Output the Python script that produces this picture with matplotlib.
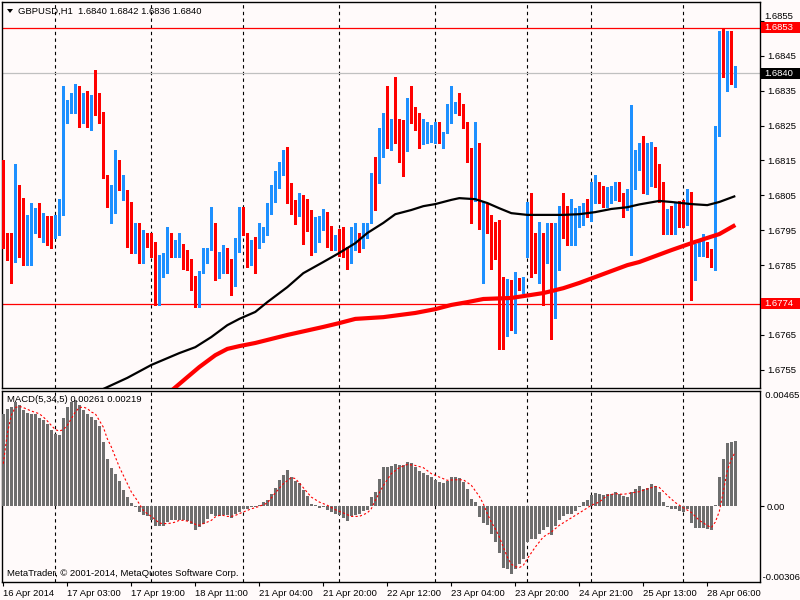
import numpy as np
import matplotlib
matplotlib.use('Agg')
import matplotlib.pyplot as plt
from matplotlib.patches import Rectangle, Polygon
from matplotlib.transforms import blended_transform_factory

# ---------------- data ----------------
title_text = "GBPUSD,H1  1.6840 1.6842 1.6836 1.6840"
macd_text = "MACD(5,34,5) 0.00261 0.00219"
copyright_text = "MetaTrader, \u00a9 2001-2014, MetaQuotes Software Corp."

opens = [1.68070,1.67931,1.67879,1.67879,1.68010,1.67941,1.67898,1.67917,1.67989,1.67999,
         1.67977,1.67980,1.67970,1.67969,1.67989,1.67999,1.68297,1.68309,1.68318,1.68320,
         1.68266,1.68280,1.68280,1.68320,1.68299,1.68280,1.68108,1.68037,1.68076,1.68101,
         1.68078,1.68061,1.67970,1.67927,1.67960,1.67888,1.67931,1.67939,1.67898,1.67817,
         1.67851,1.67836,1.67917,1.67876,1.67876,1.67910,1.67869,1.67869,1.67812,1.67769,
         1.67851,1.67876,1.67898,1.67950,1.67817,1.67855,1.67888,1.67860,1.67810,1.67888,
         1.67999,1.67931,1.67865,1.67917,1.67936,1.67941,1.67936,1.67997,1.68058,1.68105,
         1.68118,1.68148,1.68051,1.68020,1.67997,1.68032,1.68018,1.67960,1.67909,1.67949,
         1.67958,1.67970,1.67917,1.67898,1.67912,1.67895,1.67893,1.67857,1.67912,1.67939,
         1.67927,1.67931,1.67970,1.68101,1.68086,1.68161,1.68261,1.68199,1.68228,1.68239,
         1.68249,1.68206,1.68309,1.68290,1.68261,1.68207,1.68226,1.68207,1.68228,1.68249,
         1.68188,1.68239,1.68268,1.68287,1.68299,1.68299,1.68261,1.68180,1.68105,1.68161,
         1.67960,1.68010,1.67980,1.67970,1.67869,1.67817,1.67656,1.67779,1.67676,1.67798,
         1.67797,1.67898,1.68010,1.67903,1.67836,1.67930,1.67888,1.67910,1.67736,1.67898,
         1.67980,1.67939,1.67916,1.67907,1.67970,1.67994,1.68010,1.67989,1.68057,1.68067,
         1.68039,1.68029,1.68050,1.68039,1.68089,1.68029,1.68010,1.68010,1.68099,1.68148,
         1.68158,1.68066,1.68128,1.68169,1.68107,1.68080,1.67957,1.67999,1.67998,1.67999,
         1.68031,1.67977,1.68031,1.67828,1.67887,1.67888,1.67900,1.67872,1.67869,1.68227,
         1.68429,1.68427,1.68501,1.68400]
highs = [1.68151,1.67941,1.67941,1.68140,1.68079,1.68042,1.67994,1.68029,1.68013,1.68029,
         1.67999,1.67991,1.67991,1.67994,1.68039,1.68362,1.68323,1.68342,1.68369,1.68363,
         1.68342,1.68349,1.68337,1.68409,1.68342,1.68290,1.68108,1.68079,1.68180,1.68151,
         1.68108,1.68065,1.68032,1.67970,1.67970,1.67951,1.67941,1.67941,1.67917,1.67879,
         1.67884,1.67960,1.67941,1.67922,1.67941,1.67912,1.67893,1.67869,1.67819,1.67832,
         1.67898,1.67898,1.68018,1.67970,1.67888,1.67907,1.67898,1.67869,1.67929,1.68018,
         1.68018,1.67941,1.67922,1.67931,1.67970,1.67960,1.68027,1.68079,1.68120,1.68146,
         1.68180,1.68188,1.68086,1.68037,1.68058,1.68051,1.68039,1.68008,1.67989,1.67991,
         1.68010,1.68001,1.67962,1.67936,1.67953,1.67960,1.67903,1.67960,1.67970,1.67941,
         1.67970,1.67970,1.68113,1.68159,1.68242,1.68285,1.68362,1.68268,1.68390,1.68268,
         1.68266,1.68330,1.68362,1.68304,1.68287,1.68268,1.68261,1.68252,1.68261,1.68261,
         1.68232,1.68312,1.68362,1.68318,1.68342,1.68312,1.68261,1.68185,1.68261,1.68201,
         1.68032,1.68025,1.67994,1.67974,1.67979,1.67817,1.67809,1.67807,1.67831,1.67812,
         1.67817,1.68032,1.68058,1.67941,1.67975,1.67941,1.67970,1.67970,1.67970,1.68019,
         1.68058,1.68019,1.68039,1.68013,1.68019,1.68029,1.68039,1.68089,1.68108,1.68089,
         1.68077,1.68075,1.68077,1.68089,1.68089,1.68058,1.68067,1.68309,1.68180,1.68199,
         1.68220,1.68199,1.68204,1.68189,1.68141,1.68087,1.68010,1.68020,1.68031,1.68033,
         1.68036,1.68069,1.68061,1.67910,1.67918,1.67938,1.67916,1.67897,1.68250,1.68522,
         1.68530,1.68520,1.68520,1.68420]
lows = [1.67898,1.67865,1.67798,1.67860,1.67874,1.67851,1.67851,1.67851,1.67941,1.67931,
        1.67917,1.67907,1.67898,1.67927,1.67936,1.67994,1.68256,1.68285,1.68286,1.68247,
        1.68256,1.68247,1.68237,1.68280,1.68256,1.68099,1.68018,1.67970,1.67999,1.68065,
        1.68037,1.67903,1.67884,1.67884,1.67857,1.67857,1.67903,1.67874,1.67736,1.67736,
        1.67817,1.67827,1.67874,1.67874,1.67874,1.67838,1.67836,1.67779,1.67729,1.67729,
        1.67827,1.67855,1.67893,1.67808,1.67812,1.67827,1.67827,1.67764,1.67790,1.67888,
        1.67936,1.67846,1.67851,1.67827,1.67898,1.67917,1.67936,1.67997,1.68032,1.68070,
        1.68108,1.68029,1.67997,1.67968,1.67991,1.67910,1.67949,1.67879,1.67888,1.67917,
        1.67950,1.67903,1.67893,1.67893,1.67876,1.67874,1.67838,1.67855,1.67893,1.67888,
        1.67898,1.67927,1.67970,1.68008,1.68086,1.68161,1.68185,1.68180,1.68199,1.68146,
        1.68105,1.68178,1.68256,1.68237,1.68187,1.68197,1.68199,1.68204,1.68199,1.68199,
        1.68185,1.68230,1.68256,1.68285,1.68280,1.68242,1.68146,1.67970,1.68035,1.67955,
        1.67798,1.67941,1.67838,1.67869,1.67609,1.67609,1.67647,1.67664,1.67657,1.67779,
        1.67769,1.67874,1.67817,1.67827,1.67800,1.67736,1.67857,1.67638,1.67698,1.67836,
        1.67927,1.67907,1.67907,1.67907,1.67958,1.67965,1.67989,1.67977,1.68027,1.68027,
        1.68018,1.68018,1.68027,1.68037,1.68035,1.67989,1.68008,1.67879,1.68067,1.68123,
        1.68056,1.68053,1.68077,1.68074,1.68031,1.67938,1.67938,1.67938,1.67938,1.67959,
        1.67959,1.67964,1.67749,1.67808,1.67877,1.67877,1.67872,1.67846,1.67836,1.68220,
        1.68389,1.68348,1.68368,1.68360]
closes = [1.67907,1.67869,1.67867,1.67999,1.67931,1.67888,1.67912,1.67970,1.67992,1.67970,
          1.67991,1.67950,1.67949,1.67971,1.68010,1.68309,1.68299,1.68311,1.68328,1.68257,
          1.68290,1.68266,1.68328,1.68286,1.68266,1.68118,1.68048,1.68067,1.68140,1.68070,
          1.68080,1.67980,1.67917,1.67951,1.67898,1.67917,1.67917,1.67888,1.67829,1.67851,
          1.67860,1.67931,1.67898,1.67898,1.67898,1.67860,1.67857,1.67798,1.67769,1.67832,
          1.67888,1.67890,1.67970,1.67810,1.67851,1.67879,1.67851,1.67817,1.67898,1.67898,
          1.67939,1.67857,1.67912,1.67907,1.67950,1.67949,1.68018,1.68067,1.68120,1.68127,
          1.68159,1.68037,1.68027,1.67989,1.68018,1.67955,1.67958,1.67898,1.67958,1.67950,
          1.67980,1.67909,1.67907,1.67907,1.67895,1.67879,1.67848,1.67931,1.67922,1.67914,
          1.67936,1.67960,1.68089,1.68076,1.68220,1.68268,1.68188,1.68220,1.68218,1.68226,
          1.68218,1.68299,1.68285,1.68247,1.68199,1.68239,1.68247,1.68228,1.68249,1.68226,
          1.68230,1.68280,1.68309,1.68289,1.68287,1.68247,1.68188,1.68118,1.68168,1.67970,
          1.68019,1.67970,1.67879,1.67876,1.67779,1.67647,1.67769,1.67669,1.67788,1.67788,
          1.67799,1.67999,1.67869,1.67829,1.67917,1.67876,1.67898,1.67729,1.67912,1.67991,
          1.67949,1.67907,1.67918,1.67962,1.67991,1.68019,1.67997,1.68051,1.68059,1.68029,
          1.68018,1.68039,1.68052,1.68067,1.68037,1.68018,1.68019,1.68108,1.68140,1.68150,
          1.68059,1.68120,1.68179,1.68077,1.68066,1.67969,1.67979,1.67987,1.68010,1.67987,
          1.67969,1.68051,1.67816,1.67879,1.67900,1.67890,1.67877,1.67856,1.68220,1.68419,
          1.68419,1.68509,1.68389,1.68400]

ma_black_bars = [24, 31, 37, 44, 48, 52, 56, 59, 63, 66, 71, 75, 80, 84, 88, 91, 95, 98, 102, 105,
                 108, 112, 114, 118, 121, 124, 127, 131, 135, 140, 144, 148, 152, 156, 159, 164,
                 167, 172, 176, 179, 183]
ma_black_vals = [1.67490, 1.67527, 1.67564, 1.67598, 1.67615, 1.67644, 1.67678, 1.67696, 1.67716,
                 1.67744, 1.67787, 1.67827, 1.67859, 1.67885, 1.67913, 1.67942, 1.67971, 1.67996,
                 1.68008, 1.68019, 1.68025, 1.68037, 1.68042, 1.68039, 1.68028, 1.68013, 1.67999,
                 1.67994, 1.67994, 1.67994, 1.67996, 1.68002, 1.68011, 1.68016, 1.68024, 1.68034,
                 1.68031, 1.68025, 1.68022, 1.68031, 1.68048]
ma_red_bars = [42, 46, 49, 53, 56, 59, 63, 71, 80, 84, 88, 95, 103, 108, 112, 116, 120, 127, 135,
               140, 144, 148, 152, 156, 159, 167, 172, 176, 179, 183]
ma_red_vals = [1.67490, 1.67529, 1.67558, 1.67592, 1.67610, 1.67618, 1.67627, 1.67650, 1.67673,
               1.67684, 1.67696, 1.67701, 1.67713, 1.67724, 1.67736, 1.67744, 1.67753, 1.67756,
               1.67770, 1.67784, 1.67799, 1.67816, 1.67833, 1.67850, 1.67859, 1.67893, 1.67913,
               1.67928, 1.67939, 1.67965]

macd_hist = [0.00373,0.00394,0.00400,0.00420,0.00407,0.00387,0.00376,0.00373,0.00373,0.00357,
             0.00346,0.00333,0.00306,0.00292,0.00286,0.00355,0.00400,0.00422,0.00427,0.00407,
             0.00387,0.00373,0.00360,0.00346,0.00322,0.00257,0.00191,0.00155,0.00131,0.00102,
             0.00063,0.00035,0.00012,-0.00003,-0.00024,-0.00038,-0.00042,-0.00055,-0.00082,-0.00082,
             -0.00082,-0.00065,-0.00058,-0.00055,-0.00055,-0.00055,-0.00061,-0.00074,-0.00096,-0.00085,
             -0.00071,-0.00051,-0.00031,-0.00042,-0.00042,-0.00038,-0.00038,-0.00047,-0.00034,-0.00024,
             -0.00011,-0.00011,-0.00004,-0.00004,0.00003,0.00016,0.00026,0.00047,0.00074,0.00104,
             0.00124,0.00144,0.00117,0.00101,0.00093,0.00066,0.00039,0.00007,0.00003,-0.00007,
             -0.00002,-0.00015,-0.00024,-0.00031,-0.00038,-0.00047,-0.00061,-0.00042,-0.00038,-0.00031,
             -0.00020,-0.00015,0.00036,0.00057,0.00111,0.00158,0.00158,0.00160,0.00168,0.00164,
             0.00164,0.00178,0.00174,0.00158,0.00142,0.00133,0.00124,0.00117,0.00106,0.00097,
             0.00093,0.00101,0.00117,0.00117,0.00115,0.00097,0.00070,0.00030,0.00016,-0.00044,
             -0.00069,-0.00078,-0.00115,-0.00146,-0.00190,-0.00249,-0.00253,-0.00274,-0.00253,-0.00233,
             -0.00213,-0.00146,-0.00132,-0.00132,-0.00112,-0.00098,-0.00085,-0.00119,-0.00082,-0.00055,
             -0.00042,-0.00034,-0.00031,-0.00020,-0.00004,0.00016,0.00023,0.00043,0.00053,0.00050,
             0.00043,0.00050,0.00050,0.00057,0.00047,0.00039,0.00036,0.00057,0.00070,0.00080,
             0.00069,0.00072,0.00090,0.00079,0.00058,0.00017,-0.00003,-0.00012,-0.00012,-0.00022,
             -0.00026,-0.00012,-0.00069,-0.00087,-0.00087,-0.00087,-0.00094,-0.00098,0.00003,0.00118,
             0.00191,0.00253,0.00257,0.00261]

signal_bars = [0,1,2,3,4,5,7,9,10,11,12,13,14,15,16,17,18,19,20,21,22,23,24,25,26,27,28,29,30,31,
               32,33,34,35,36,37,38,39,40,41,42,43,44,45,46,47,48,49,50,51,52,53,54,55,56,57,58,59,
               60,61,62,63,64,65,66,68,70,72,73,74,75,77,79,81,83,85,87,89,91,92,93,94,95,97,99,
               101,103,105,107,109,111,113,115,117,119,120,121,122,123,124,125,126,127,128,129,130,
               131,133,135,137,139,141,143,145,147,149,151,153,155,157,159,161,163,164,166,168,170,
               172,174,176,177,178,179,180,181,182,183]
signal_vals = [0.00171,0.00292,0.00367,0.00398,0.00403,0.00398,0.00384,0.00373,0.00360,0.00344,
               0.00326,0.00309,0.00303,0.00309,0.00326,0.00353,0.00380,0.00398,0.00400,0.00394,
               0.00380,0.00373,0.00346,0.00319,0.00272,0.00239,0.00198,0.00158,0.00124,0.00090,
               0.00057,0.00034,0.00009,-0.00018,-0.00031,-0.00042,-0.00055,-0.00069,-0.00071,-0.00071,
               -0.00069,-0.00065,-0.00058,-0.00058,-0.00061,-0.00065,-0.00074,-0.00078,-0.00071,-0.00065,
               -0.00058,-0.00044,-0.00038,-0.00038,-0.00042,-0.00042,-0.00038,-0.00031,-0.00024,-0.00018,
               -0.00011,-0.00007,-0.00001,0.00005,0.00012,0.00053,0.00090,0.00115,0.00111,0.00093,
               0.00074,0.00036,0.00016,0.00003,-0.00015,-0.00028,-0.00042,-0.00042,-0.00028,-0.00011,
               0.00023,0.00053,0.00082,0.00131,0.00155,0.00168,0.00164,0.00155,0.00131,0.00117,
               0.00104,0.00106,0.00106,0.00084,0.00039,0.00009,-0.00031,-0.00065,-0.00092,-0.00125,
               -0.00166,-0.00206,-0.00235,-0.00245,-0.00249,-0.00240,-0.00213,-0.00166,-0.00125,-0.00105,
               -0.00078,-0.00058,-0.00038,-0.00018,0.00003,0.00016,0.00043,0.00050,0.00047,0.00053,
               0.00058,0.00069,0.00079,0.00075,0.00043,0.00014,-0.00007,-0.00026,-0.00058,-0.00079,
               -0.00087,-0.00065,-0.00022,0.00058,0.00144,0.00188,0.00219]

time_tick_bars = [0, 16, 32, 48, 64, 80, 96, 112, 128, 144, 160, 176]
time_tick_labels = ["16 Apr 2014", "17 Apr 03:00", "17 Apr 19:00", "18 Apr 11:00",
                    "21 Apr 04:00", "21 Apr 20:00", "22 Apr 12:00", "23 Apr 04:00",
                    "23 Apr 20:00", "24 Apr 21:00", "25 Apr 13:00", "28 Apr 06:00"]
day_separator_bars = [13, 37, 60, 84, 108, 131, 147, 170]

price_ticks = [1.6755, 1.6765, 1.6775, 1.6785, 1.6795, 1.6805, 1.6815, 1.6825, 1.6835, 1.6845, 1.6855]
price_tick_labels = ["1.6755", "1.6765", "", "1.6785", "1.6795", "1.6805", "1.6815",
                     "1.6825", "1.6835", "1.6845", ""]
top_price_label = "1.6855"
red_levels = [1.6853, 1.6774]
bid_level = 1.6840
price_min, price_max = 1.67498, 1.68604
macd_min, macd_max = -0.00306, 0.00465

# ---------------- styling ----------------
BG = '#FFFAFA'
BULL = '#1E90FF'
BEAR = '#FF0000'
HIST = '#6E6E6E'
FONT = 'Liberation Sans'
FS = 6.8

plt.rcParams['font.family'] = [FONT, 'DejaVu Sans']

W, H = 800, 600
PX_PER_PRICE = 34900.0
fig = plt.figure(figsize=(8, 6), dpi=100, facecolor=BG)

def fx(px):
    return px / W

def fy(py):
    return 1 - py / H

ax = fig.add_axes([fx(2), fy(388), fx(758), 386 / H])
ax2 = fig.add_axes([fx(2), fy(581.7), fx(758), 190.7 / H])
for a in (ax, ax2):
    a.set_facecolor(BG)
    a.set_xlim(-0.325, 189.175)
    for s in a.spines.values():
        s.set_color('black')
        s.set_linewidth(1.0)

n = len(closes)
idx = np.arange(n)
o = np.array(opens); c = np.array(closes); h = np.array(highs); l = np.array(lows)
bull = c >= o
colors = np.where(bull, BULL, BEAR)

# wicks
ax.vlines(idx, l, h, colors=colors, linewidth=0.75, antialiased=False, zorder=3)
# bodies
body_bottom = np.minimum(o, c)
body_h = np.maximum(np.abs(c - o), 0.00003)
ax.bar(idx, body_h, bottom=body_bottom, width=0.75, color=colors, linewidth=0,
       antialiased=False, zorder=4)

# moving averages
ax.plot(ma_black_bars, ma_black_vals, color='black', linewidth=1.6, zorder=5,
        solid_capstyle='butt')
ax.plot(ma_red_bars, ma_red_vals, color='#FF0000', linewidth=3.0, zorder=5,
        solid_capstyle='butt')

# horizontal levels
for lv in red_levels:
    ax.axhline(lv, color='#FF0000', linewidth=0.9, zorder=2)
ax.axhline(bid_level, color='#C0C0C0', linewidth=0.9, zorder=2)

ax.set_ylim(price_min, price_max)
ax.yaxis.tick_right()
ax.set_yticks(price_ticks)
ax.set_yticklabels(price_tick_labels)
ax.tick_params(axis='y', direction='out', length=3, width=0.8, pad=2, labelsize=FS,
               colors='black')
ax.set_xticks([])

# day separators
for a in (ax, ax2):
    for b in day_separator_bars:
        a.axvline(b, color='black', linewidth=0.8, linestyle=(0, (3, 3)), zorder=1)

# MACD panel
ax2.bar(idx, macd_hist, width=0.75, color=HIST, linewidth=0, antialiased=False, zorder=3)
ax2.plot(signal_bars, signal_vals, color='#FF0000', linewidth=0.8,
         linestyle=(0, (2, 2)), zorder=4)
ax2.set_ylim(macd_min, macd_max)
ax2.yaxis.tick_right()
ax2.set_yticks([0.0])
ax2.set_yticklabels(["0.00"])
ax2.tick_params(axis='y', direction='out', length=3, width=0.8, pad=2, labelsize=FS)
tr2 = blended_transform_factory(ax2.transAxes, ax2.transData)
ax2.text(1.0, macd_max, "  0.00465", transform=tr2, ha='left', va='top', fontsize=FS)
ax2.text(1.0, macd_min, " -0.00306", transform=tr2, ha='left', va='bottom', fontsize=FS)

ax2.set_xticks(time_tick_bars)
ax2.set_xticklabels(time_tick_labels)
for lab in ax2.get_xticklabels():
    lab.set_ha('left')
ax2.tick_params(axis='x', direction='out', length=3, width=0.8, pad=2, labelsize=FS)

# top price label, nudged up slightly so the 1.6853 box does not hide it
fig.text(fx(764), fy(16.5), top_price_label, fontsize=FS, ha='left', va='center', color='black')

# price label boxes on the right
tr = blended_transform_factory(fig.transFigure, ax.transData)
box_h = 11 / PX_PER_PRICE
for lv, col in [(red_levels[0], '#FF0000'), (bid_level, 'black'), (red_levels[1], '#FF0000')]:
    r = Rectangle((fx(761), lv - box_h / 2), fx(39), box_h, transform=tr,
                  facecolor=col, edgecolor='none', clip_on=False, zorder=10)
    fig.add_artist(r)
    fig.text(fx(764), lv, f"{lv:.4f}", transform=tr, color='white', fontsize=FS,
             ha='left', va='center', zorder=11)

# texts
fig.text(fx(18), fy(11), title_text, fontsize=FS, ha='left', va='center', color='black')
tri = Polygon([[fx(7), fy(9)], [fx(13), fy(9)], [fx(10), fy(13)]], closed=True,
              transform=fig.transFigure, facecolor='black', edgecolor='none')
fig.add_artist(tri)
fig.text(fx(7), fy(400), macd_text, fontsize=FS, ha='left', va='center', color='black')
fig.text(fx(7), fy(574), copyright_text, fontsize=FS, ha='left', va='center', color='black')

fig.savefig('out.png', dpi=100, facecolor=BG)
